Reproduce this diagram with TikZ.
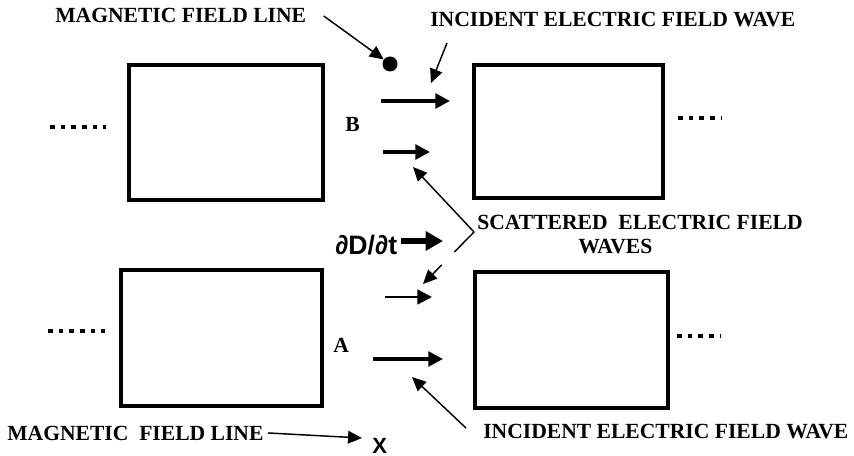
\documentclass[tikz,border=0pt]{standalone}
\usepackage{fontspec}
\setmainfont{Liberation Serif}
\setsansfont{Liberation Sans}
\usetikzlibrary{arrows.meta}
\tikzset{
  cell/.style={draw=black, line width=3pt, inner sep=0pt},
  caption/.style={font=\bfseries\fontsize{16.2}{18}\selectfont, inner sep=0pt, anchor=base west},
  symbol/.style={font=\sffamily\bfseries\fontsize{20}{22}\selectfont, inner sep=0pt, anchor=base west},
  fieldpoint/.style={circle, fill=black, minimum size=11.25pt, inner sep=0pt},
  trail/.style={line width=3.6pt, dash pattern=on 3.6pt off 4.4pt},
  wave/.style={-{Triangle[length=11pt, width=11pt]}, line width=2.6pt},
  thinwave/.style={wave, line width=1.8pt},
  push/.style={-{Triangle[length=13pt, width=14pt]}, line width=5pt},
  pointer/.style={-{Triangle[length=10.5pt, width=9.5pt]}, line width=1.1pt}
}
\begin{document}
\begin{tikzpicture}[x=0.75pt, y=-0.75pt]
  \useasboundingbox (0,0) rectangle (854,456);
  % the four cells
  \node[cell, minimum width=145.5pt, minimum height=101.25pt] (leftB) at (226,132.5) {};
  \node[cell, minimum width=141.75pt, minimum height=99.75pt] (rightB) at (568.5,131.5) {};
  \node[cell, minimum width=150.75pt, minimum height=102pt] (leftA) at (221.5,338) {};
  \node[cell, minimum width=144.75pt, minimum height=102pt] (rightA) at (571.5,340) {};
  \draw[trail] (50,127) -- (106,127);
  \draw[trail] (678,118) -- (722,118);
  \draw[trail] (48,331) -- (105,331);
  \draw[trail] (677,336) -- (721,336);
  % texts
  \node[caption] (magB) at (55,23) {MAGNETIC FIELD LINE};
  \node[caption] (incB) at (430,27) {INCIDENT ELECTRIC FIELD WAVE};
  \node[caption] (scat) at (477,230) {SCATTERED\ \ ELECTRIC FIELD};
  \node[caption] (scatW) at (578,253) {WAVES};
  \node[caption] (incA) at (483,438) {INCIDENT ELECTRIC FIELD WAVE};
  \node[caption] (magA) at (7,440) {MAGNETIC\ \ FIELD LINE};
  \node[caption] (labB) at (345,132) {B};
  \node[caption] (labA) at (333,353) {A};
  \node[symbol] (dDdt) at (335,255) {∂D/∂t};
  \node[symbol, font=\sffamily\bfseries\fontsize{16.5}{18}\selectfont] (xdir) at (372,453) {X};
  \node[fieldpoint] (fieldB) at (390,64) {};
  % free ends
  \coordinate (incBtail) at (447,43);
  \coordinate (incBhead) at (431,83);
  \coordinate (waveB1) at (381,101);
  \coordinate (waveB1h) at (450,101);
  \coordinate (waveB2) at (383,152);
  \coordinate (waveB2h) at (430,152);
  \coordinate (waveA1) at (385,297);
  \coordinate (waveA1h) at (432,297);
  \coordinate (waveA2) at (373,359);
  \coordinate (waveA2h) at (443,359);
  \coordinate (scatFoot) at (474,232);
  \coordinate (scatUp) at (413,167);
  \coordinate (scatDown) at (423,284);
  \coordinate (pushTail) at (401,241);
  \coordinate (pushTip) at (443,241);
  \coordinate (incAtail) at (466,428);
  \coordinate (incAhead) at (412,377);
  \coordinate (xTip) at (362,438);
  % arrows
  \draw[pointer] ([xshift=13pt]magB.east) -- (fieldB);
  \draw[pointer] (incBtail) -- (incBhead);
  \draw[wave] (waveB1) -- (waveB1h);
  \draw[wave] (waveB2) -- (waveB2h);
  \draw[thinwave] (waveA1) -- (waveA1h);
  \draw[wave] (waveA2) -- (waveA2h);
  \draw[pointer] (scatFoot) -- (scatUp);
  \draw[pointer, dash pattern=on 21pt off 13.5pt on 60pt] (scatFoot) -- (scatDown);
  \draw[push] (pushTail) -- (pushTip);
  \draw[pointer] (incAtail) -- (incAhead);
  \draw[pointer] ([xshift=3pt]magA.east) -- (xTip);
\end{tikzpicture}
\end{document}
